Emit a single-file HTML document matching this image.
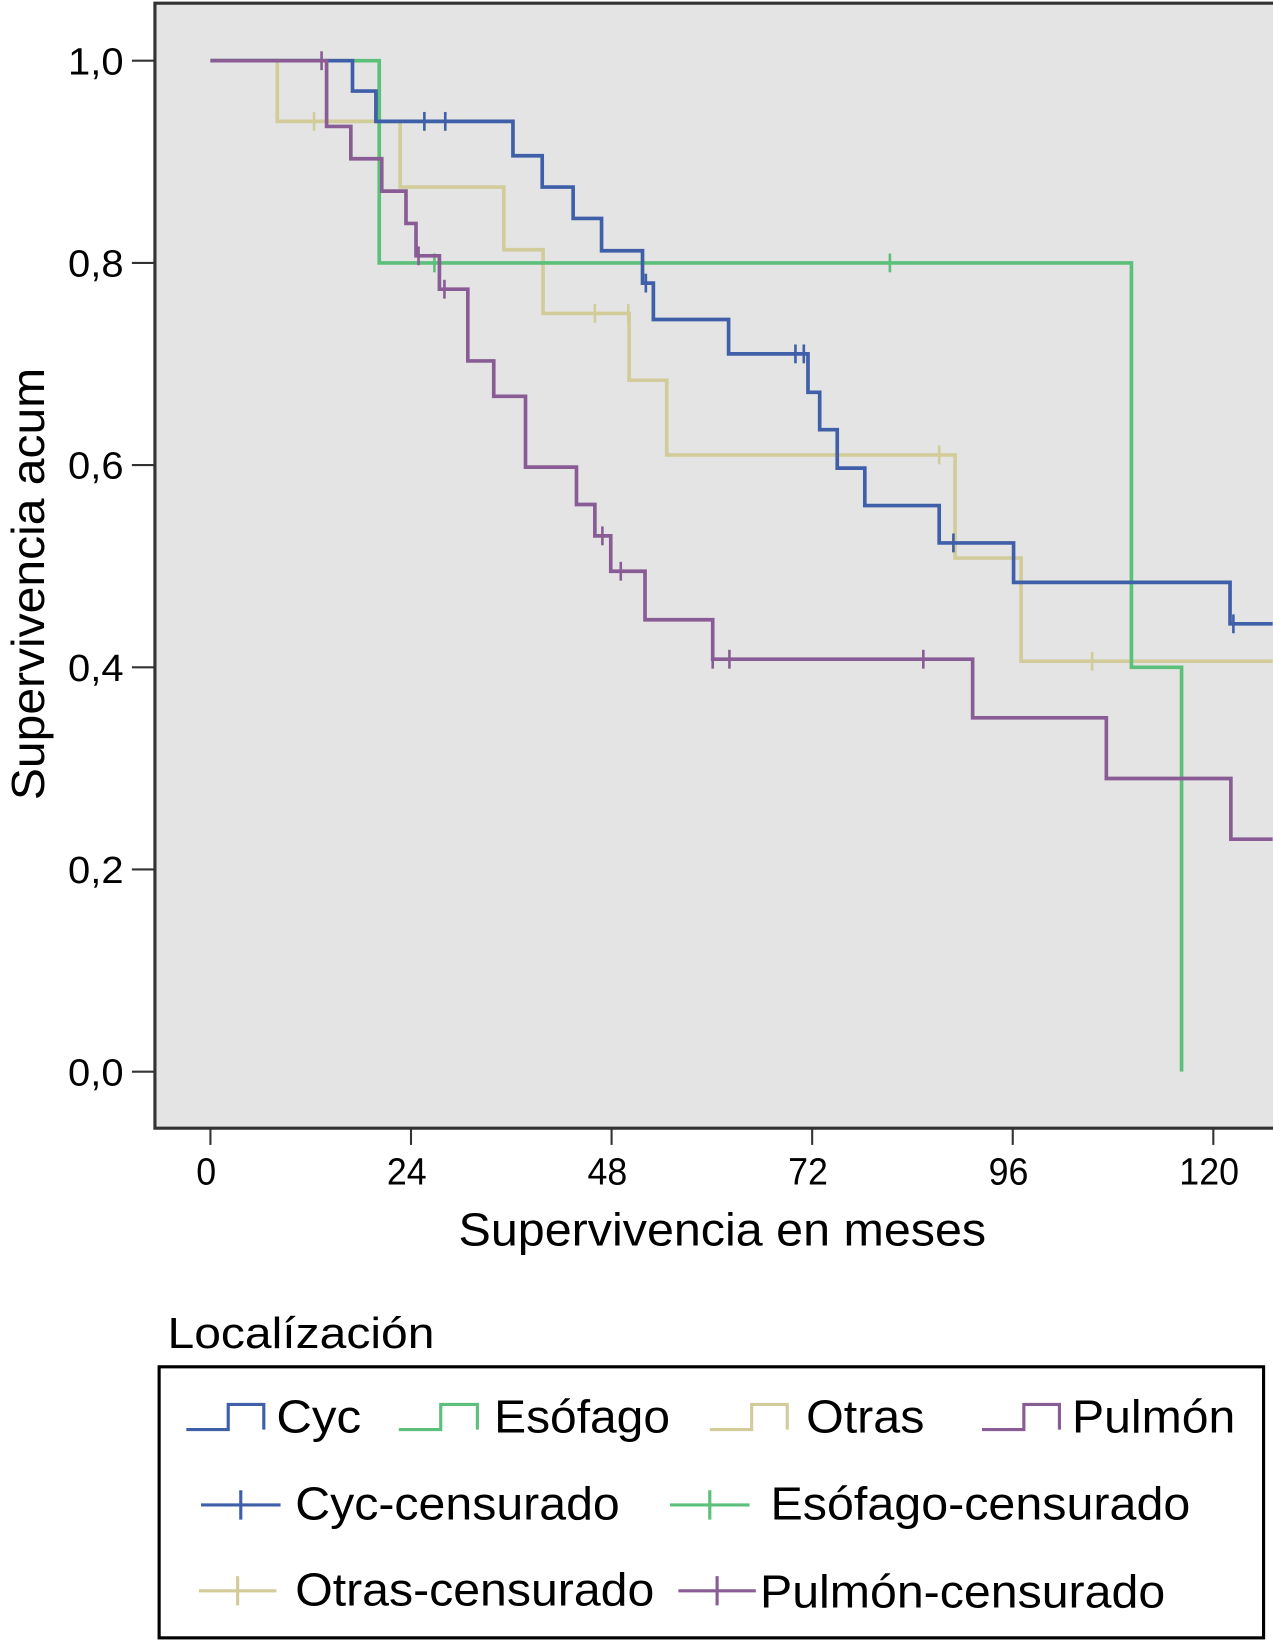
<!DOCTYPE html>
<html><head><meta charset="utf-8"><style>
html,body{margin:0;padding:0;background:#fff}
svg{display:block}
text{font-family:"Liberation Sans",sans-serif}
</style></head><body>
<svg id="chart" width="1273" height="1641" viewBox="0 0 1216 1568" preserveAspectRatio="none" xmlns="http://www.w3.org/2000/svg">
<rect x="148" y="3" width="1070" height="1075" fill="#e4e4e4"/>
<path d="M1218,3 H148 V1078 H1218" fill="none" stroke="#333" stroke-width="3"/>
<g id="yaxis"></g>
<g id="xaxis"></g>
<g id="series"></g>
<text transform="translate(42,558) rotate(-90)" text-anchor="middle" font-size="44" textLength="413" lengthAdjust="spacingAndGlyphs">Supervivencia acum</text>
<text x="690" y="1190" text-anchor="middle" font-size="44" textLength="504" lengthAdjust="spacingAndGlyphs">Supervivencia en meses</text>
<text x="160" y="1288" font-size="42" textLength="255" lengthAdjust="spacingAndGlyphs">Localízación</text>
<g>
<rect x="152" y="1306" width="1055" height="259" fill="#fff" stroke="#000" stroke-width="3"/>
<g><path d="M178,1366 H218 V1342 H252 V1366" fill="none" stroke="#3f5fa8" stroke-width="3"/><text x="264" y="1369" font-size="44" textLength="81" lengthAdjust="spacingAndGlyphs">Cyc</text></g>
<g><path d="M381,1366 H421 V1342 H456 V1366" fill="none" stroke="#5cbf7a" stroke-width="3"/><text x="472" y="1369" font-size="44" textLength="168" lengthAdjust="spacingAndGlyphs">Esófago</text></g>
<g><path d="M678,1366 H718 V1342 H752 V1366" fill="none" stroke="#d2cc9a" stroke-width="3"/><text x="770" y="1369" font-size="44" textLength="113" lengthAdjust="spacingAndGlyphs">Otras</text></g>
<g><path d="M938,1366 H978 V1342 H1012 V1366" fill="none" stroke="#8a5c95" stroke-width="3"/><text x="1024" y="1369" font-size="44" textLength="156" lengthAdjust="spacingAndGlyphs">Pulmón</text></g>
<g><path d="M192,1438 H268 M230,1424 V1452" stroke="#3f5fa8" stroke-width="3"/><text x="282" y="1452" font-size="44" textLength="310" lengthAdjust="spacingAndGlyphs">Cyc-censurado</text></g>
<g><path d="M640,1438 H716 M678,1424 V1452" stroke="#5cbf7a" stroke-width="3"/><text x="736" y="1452" font-size="44" textLength="401" lengthAdjust="spacingAndGlyphs">Esófago-censurado</text></g>
<g><path d="M190,1520 H264 M227,1506 V1534" stroke="#d2cc9a" stroke-width="3"/><text x="282" y="1534" font-size="44" textLength="343" lengthAdjust="spacingAndGlyphs">Otras-censurado</text></g>
<g><path d="M648,1520 H722 M685,1506 V1534" stroke="#8a5c95" stroke-width="3"/><text x="726" y="1536" font-size="44" textLength="387" lengthAdjust="spacingAndGlyphs">Pulmón-censurado</text></g>
</g>
</svg>
<script>
const yTicks = [0, 0.2, 0.4, 0.6, 0.8, 1.0];
const yTickLabels = ["0,0", "0,2", "0,4", "0,6", "0,8", "1,0"];
const xTicks = [0, 24, 48, 72, 96, 120];
const xTickLabels = ["0", "24", "48", "72", "96", "120"];

const cycTimes = [17.0, 19.8, 36.2, 39.7, 43.4, 46.8, 51.7, 53.0, 62.0, 71.5, 72.9, 75.0, 78.3, 87.2, 96.1, 122.0];
const cycSurv = [0.97, 0.94, 0.906, 0.875, 0.844, 0.812, 0.78, 0.744, 0.71, 0.672, 0.635, 0.597, 0.56, 0.523, 0.484, 0.443];
const cycCensor = [25.6, 28.1, 52.1, 70.0, 71.0, 88.9, 122.4];
const cycEnd = 127.1;

const esoTimes = [20.2, 110.2, 116.2];
const esoSurv = [0.80, 0.40, 0.0];
const esoCensor = [26.8, 81.3];
const esoEnd = 116.2;

const otrTimes = [8.0, 22.7, 35.1, 39.8, 50.1, 54.6, 89.1, 97.0];
const otrSurv = [0.94, 0.875, 0.813, 0.75, 0.684, 0.61, 0.508, 0.406];
const otrCensor = [12.4, 46.0, 50.0, 87.2, 105.5];
const otrEnd = 127.1;

const pulTimes = [13.9, 16.8, 20.5, 23.4, 24.6, 27.4, 30.8, 33.9, 37.7, 43.8, 46.0, 47.9, 52.0, 60.1, 91.2, 107.2, 122.1];
const pulSurv = [0.935, 0.903, 0.871, 0.839, 0.807, 0.774, 0.703, 0.668, 0.598, 0.561, 0.53, 0.495, 0.447, 0.408, 0.35, 0.29, 0.23];
const pulCensor = [13.3, 24.9, 28.0, 46.9, 49.1, 60.1, 62.1, 85.3];
const pulEnd = 127.1;

const NS = "http://www.w3.org/2000/svg";
function xs(m){ return 201 + m * (1159 - 201) / 120; }
function ys(v){ return 1024 - v * (1024 - 58); }
function mk(tag, attrs, parent){ const e = document.createElementNS(NS, tag); for (const k in attrs) e.setAttribute(k, attrs[k]); parent.appendChild(e); return e; }

const ya = document.getElementById('yaxis');
yTicks.forEach((v, i) => {
  const l = mk('line', {x1: 126, x2: 148, y1: ys(v), y2: ys(v), stroke: '#333', 'stroke-width': 2}, ya);
  
  
  const t = mk('text', {x: 118, y: ys(v) + 13, 'text-anchor': 'end', 'font-size': 36, textLength: 53, lengthAdjust: 'spacingAndGlyphs'}, ya);
  
  
  t.textContent = yTickLabels[i];
});
const xa = document.getElementById('xaxis');
xTicks.forEach((v, i) => {
  const l = mk('line', {x1: xs(v), x2: xs(v), y1: 1078, y2: 1094, stroke: '#333', 'stroke-width': 2}, xa);
  
  
  const w = xTickLabels[i].length * 19;
  const t = mk('text', {x: xs(v) - 4, y: 1132, 'text-anchor': 'middle', 'font-size': 36, textLength: w, lengthAdjust: 'spacingAndGlyphs'}, xa);
  
  
  t.textContent = xTickLabels[i];
});

function survAt(times, surv, t){ let s = 1; for (let i = 0; i < times.length; i++) if (times[i] <= t) s = surv[i]; return s; }
const sg = document.getElementById('series');
function drawSeries(name, color, times, surv, censor, end){
  let d = 'M' + xs(0) + ',' + ys(1);
  for (let i = 0; i < times.length; i++){
    d += ' H' + xs(times[i]) + ' V' + ys(surv[i]);
  }
  d += ' H' + xs(end);
  const p = mk('path', {d: d, fill: 'none', stroke: color, 'stroke-width': 3.5}, sg);
  
  
  censor.forEach(c => {
    const y = ys(survAt(times, surv, c));
    const m = mk('line', {x1: xs(c), x2: xs(c), y1: y - 9, y2: y + 9, stroke: color, 'stroke-width': 2.5}, sg);
    
    
  });
}
drawSeries('otras', '#d2cc9a', otrTimes, otrSurv, otrCensor, otrEnd);
drawSeries('esofago', '#5cbf7a', esoTimes, esoSurv, esoCensor, esoEnd);
drawSeries('cyc', '#3f5fa8', cycTimes, cycSurv, cycCensor, cycEnd);
drawSeries('pulmon', '#8a5c95', pulTimes, pulSurv, pulCensor, pulEnd);
</script>
</body></html>
